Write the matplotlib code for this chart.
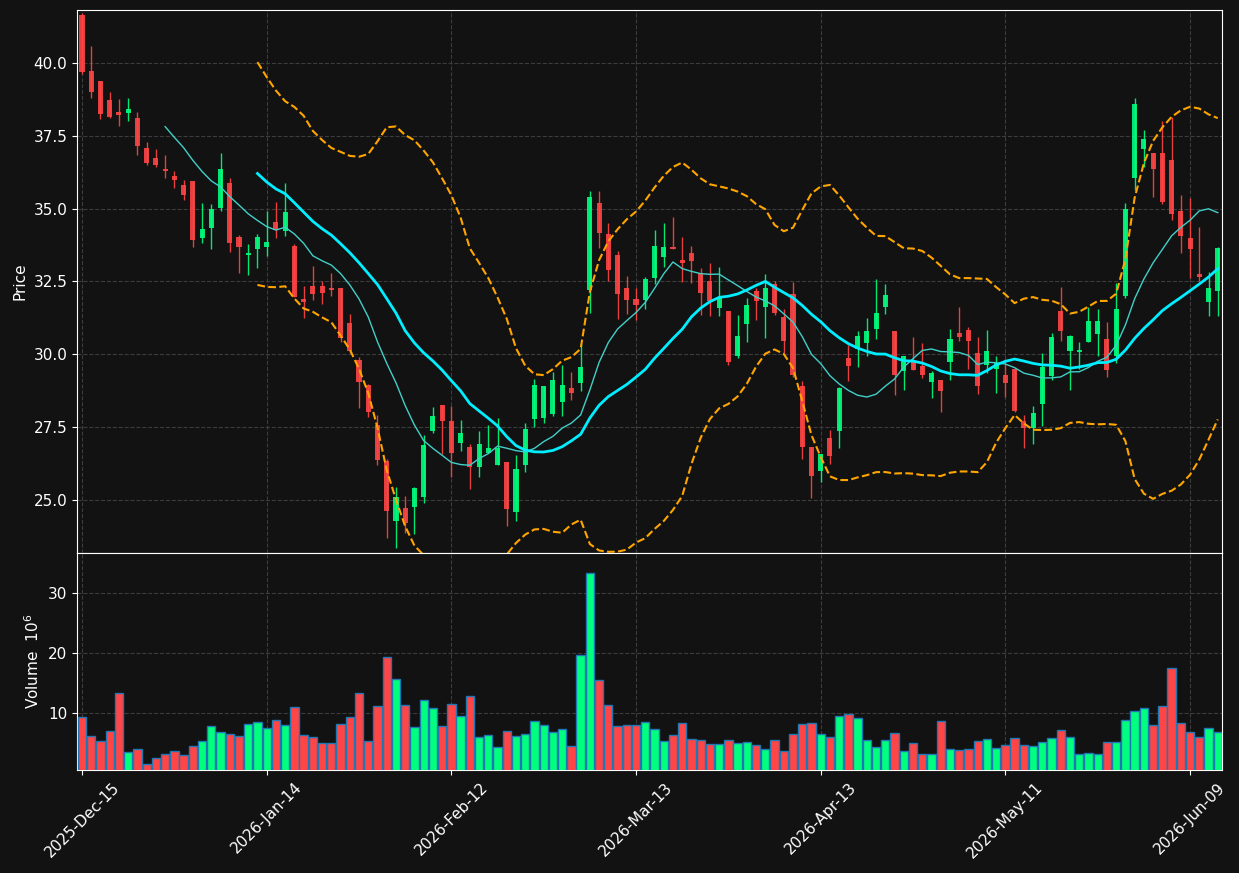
import numpy as np
import pandas as pd
import matplotlib
matplotlib.use("Agg")
import matplotlib.pyplot as plt

# daily OHLC (124 sessions, NYSE calendar)
opens = [
    41.64, 39.71, 39.36, 38.71, 38.30, 38.27, 38.09, 37.06, 36.72, 36.34,
    36.13, 35.82, 35.93, 33.98, 34.32, 35.02, 35.86, 34.01, 33.42, 33.63,
    33.69, 34.55, 34.23, 33.73, 31.90, 32.34, 32.34, 32.28, 32.28, 31.09,
    29.81, 28.95, 27.58, 26.35, 24.30, 24.73, 24.78, 25.11, 27.38, 28.27,
    27.72, 26.97, 26.82, 26.14, 26.63, 26.20, 26.31, 24.61, 26.20, 27.77,
    27.83, 27.95, 28.38, 28.85, 29.02, 32.20, 35.20, 34.13, 33.42, 32.28,
    31.90, 31.86, 32.61, 33.33, 33.68, 33.22, 33.46, 32.80, 32.52, 31.58,
    31.47, 29.95, 31.03, 32.18, 31.61, 32.40, 31.27, 32.06, 28.93, 26.84,
    25.99, 27.14, 27.38, 29.89, 30.18, 30.40, 30.88, 31.64, 30.81, 29.43,
    29.73, 29.61, 29.04, 29.13, 29.75, 30.74, 30.85, 30.06, 29.63, 29.51,
    29.30, 29.49, 27.72, 27.46, 28.31, 29.27, 31.47, 30.12, 30.07, 30.43,
    30.71, 30.53, 29.95, 32.01, 36.04, 37.05, 36.89, 36.92, 36.65, 34.93,
    33.98, 32.77, 31.80, 32.16]
highs = [
    41.70, 40.58, 39.39, 39.00, 38.76, 38.80, 38.32, 37.27, 37.05, 36.84,
    36.29, 35.99, 35.93, 35.20, 35.16, 36.91, 36.05, 34.08, 33.79, 34.13,
    34.92, 35.24, 35.89, 33.80, 32.34, 33.03, 32.50, 32.79, 32.28, 31.40,
    29.90, 29.00, 27.91, 26.40, 25.45, 25.13, 25.45, 27.24, 28.20, 28.27,
    28.23, 27.76, 26.93, 27.36, 27.57, 27.81, 26.31, 26.55, 27.66, 29.15,
    28.93, 29.39, 29.63, 29.39, 30.34, 35.59, 35.59, 34.51, 33.56, 32.68,
    32.28, 32.65, 34.26, 34.51, 34.71, 34.03, 33.70, 32.95, 33.13, 32.99,
    31.47, 31.35, 31.92, 32.26, 32.77, 32.52, 31.55, 32.49, 29.10, 26.84,
    26.59, 27.42, 28.88, 30.31, 30.81, 31.25, 32.59, 32.40, 30.81, 29.94,
    30.58, 30.40, 29.42, 29.13, 30.88, 31.64, 30.94, 30.58, 30.82, 29.94,
    29.85, 29.49, 27.91, 28.23, 30.06, 30.73, 32.31, 30.68, 30.42, 31.61,
    31.55, 31.10, 32.43, 35.20, 38.78, 37.69, 36.90, 37.99, 38.14, 35.48,
    35.36, 34.37, 32.83, 33.68]
lows = [
    39.61, 38.78, 38.08, 38.12, 37.84, 37.99, 36.82, 36.50, 36.41, 36.05,
    35.71, 35.30, 33.67, 33.81, 33.62, 34.92, 33.51, 32.78, 32.71, 32.95,
    33.37, 33.98, 34.06, 31.95, 31.24, 31.87, 31.72, 32.00, 30.42, 30.03,
    28.17, 27.84, 26.20, 23.69, 23.35, 23.89, 23.83, 24.89, 27.30, 26.57,
    25.78, 26.67, 25.38, 25.78, 26.63, 26.20, 24.10, 24.30, 25.96, 27.50,
    27.66, 27.88, 27.90, 28.42, 28.76, 31.41, 33.64, 32.51, 31.21, 31.37,
    31.19, 31.55, 32.40, 33.01, 33.62, 32.49, 32.45, 31.36, 31.31, 31.33,
    29.63, 29.88, 30.43, 31.19, 30.55, 31.35, 30.03, 29.24, 26.41, 25.09,
    25.63, 26.25, 26.79, 29.10, 29.55, 29.95, 30.52, 31.37, 28.60, 28.78,
    29.45, 29.18, 28.49, 28.03, 29.12, 30.46, 29.49, 28.63, 29.36, 28.67,
    28.54, 28.03, 26.79, 26.91, 27.54, 29.12, 30.46, 28.79, 29.49, 30.43,
    29.95, 29.24, 29.69, 31.92, 35.62, 36.41, 35.41, 35.14, 34.62, 33.47,
    32.62, 32.52, 31.31, 31.31]
closes = [
    39.67, 38.99, 38.24, 38.14, 38.20, 38.40, 37.14, 36.56, 36.48, 36.28,
    35.98, 35.45, 33.91, 34.31, 34.97, 36.34, 33.81, 33.67, 33.48, 34.01,
    33.86, 34.26, 34.89, 31.98, 31.78, 32.06, 32.10, 32.20, 30.57, 30.11,
    29.06, 28.04, 26.39, 24.62, 25.11, 24.22, 25.42, 26.90, 27.90, 27.72,
    26.63, 27.31, 26.14, 26.93, 26.79, 26.79, 24.71, 26.07, 27.45, 28.96,
    28.93, 29.12, 28.96, 28.66, 29.58, 35.38, 34.15, 32.88, 32.06, 31.86,
    31.70, 32.60, 33.73, 33.69, 33.63, 33.12, 33.19, 32.10, 31.83, 31.92,
    29.73, 30.64, 31.70, 31.82, 32.28, 31.43, 30.45, 29.28, 26.84, 25.83,
    26.57, 26.50, 28.85, 29.61, 30.63, 30.81, 31.43, 32.04, 29.28, 29.94,
    29.45, 29.30, 29.36, 28.73, 30.51, 30.58, 30.45, 28.90, 30.12, 29.71,
    29.02, 28.06, 27.48, 28.00, 29.58, 30.61, 30.79, 30.63, 30.16, 31.16,
    31.16, 29.45, 31.56, 34.99, 38.57, 37.37, 36.35, 35.22, 34.81, 34.06,
    33.62, 32.65, 32.28, 33.66]
# volume in millions
volumes = [
    9.33, 6.11, 5.33, 7.0, 13.33, 3.5, 4.0, 1.5, 2.5, 3.17,
    3.67, 3.0, 4.5, 5.33, 7.83, 6.83, 6.5, 6.17, 8.17, 8.5,
    7.5, 8.83, 8.0, 11.0, 6.33, 6.0, 5.0, 5.0, 8.17, 9.33,
    13.33, 5.33, 11.17, 19.33, 15.67, 11.33, 7.67, 12.17, 10.83, 7.83,
    11.5, 9.5, 12.83, 6.0, 6.33, 4.33, 7.0, 6.17, 6.5, 8.67,
    8.0, 6.83, 7.33, 4.5, 19.67, 33.33, 15.5, 11.33, 7.83, 8.0,
    8.0, 8.5, 7.33, 5.33, 6.33, 8.33, 5.67, 5.5, 4.83, 4.83,
    5.5, 5.0, 5.17, 4.67, 4.0, 5.5, 3.67, 6.5, 8.17, 8.33,
    6.5, 6.0, 9.5, 9.83, 9.17, 5.5, 4.33, 5.5, 6.67, 3.67,
    5.0, 3.17, 3.17, 8.67, 4.0, 3.83, 4.0, 5.33, 5.67, 4.17,
    4.67, 5.83, 4.67, 4.5, 5.17, 5.83, 7.17, 6.0, 3.17, 3.33,
    3.17, 5.17, 5.17, 8.83, 10.33, 10.83, 8.0, 11.17, 17.5, 8.33,
    6.83, 6.0, 7.5, 6.83]

holidays = ["2025-12-25", "2026-01-01", "2026-01-19", "2026-02-16",
            "2026-04-03", "2026-05-25"]
dates = pd.bdate_range("2025-12-15", periods=len(closes), freq="C",
                       holidays=holidays)

df = pd.DataFrame({"Open": opens, "High": highs, "Low": lows,
                   "Close": closes, "Volume": volumes}, index=dates)

# indicators (population std for the bands)
ma10 = df["Close"].rolling(10).mean()
ma20 = df["Close"].rolling(20).mean()
sd20 = df["Close"].rolling(20).std(ddof=0)
bb_up = ma20 + 2 * sd20
bb_lo = ma20 - 2 * sd20

bg = "#121212"
up_c = "#00ff7f"
dn_c = "#ff4545"

x = np.arange(len(df))
up = df["Close"] >= df["Open"]
cols = np.where(up, up_c, dn_c)

fig = plt.figure(figsize=(12.39, 8.73), dpi=100, facecolor=bg)
ax = fig.add_axes([0.0621, 0.3666, 0.9241, 0.622], facecolor=bg)
axv = fig.add_axes([0.0621, 0.118, 0.9241, 0.2486], facecolor=bg, sharex=ax)

# candles
ax.vlines(x, df["Low"], df["High"], colors=cols, linewidth=1, alpha=0.9, zorder=2)
ax.bar(x, (df["Close"] - df["Open"]).abs(), bottom=np.minimum(df["Open"], df["Close"]),
       width=0.55, color=cols, alpha=0.9, linewidth=0, zorder=3)

# moving averages + bollinger
ax.plot(x, ma10, color="#40d0c8", linewidth=1, zorder=4)
ax.plot(x, ma20, color="#00eeff", linewidth=2, zorder=4)
ax.plot(x, bb_up, color="orange", linestyle="--", linewidth=1.5, zorder=4)
ax.plot(x, bb_lo, color="orange", linestyle="--", linewidth=1.5, zorder=4)

ax.set_ylim(23.19, 41.81)
ax.set_yticks(np.arange(25, 41, 2.5))
ax.set_yticklabels([f"{v:.1f}" for v in np.arange(25, 41, 2.5)])
ax.set_ylabel("Price", color="white", fontsize=11)

# volume
axv.bar(x, df["Volume"], width=0.9, color=cols, edgecolor="#1f77b4", linewidth=1, zorder=3)
axv.set_ylim(0.3 * min(volumes), 1.1 * max(volumes))
axv.set_yticks([10, 20, 30])
axv.set_ylabel("Volume  $10^6$", color="white", fontsize=11)

axv.set_xlim(-0.55, len(df) - 0.55)
tick_idx = x[::20]
axv.set_xticks(tick_idx)
axv.set_xticklabels([d.strftime("%Y-%b-%d") for d in dates[tick_idx]],
                    rotation=45, ha="center", fontsize=11)
ax.tick_params(labelbottom=False, bottom=False)

for a in (ax, axv):
    a.grid(True, color="#3c3c3c", linestyle="--", linewidth=0.8, zorder=0)
    a.set_axisbelow(True)
    for s in a.spines.values():
        s.set_color("white")
    a.tick_params(colors="white", labelsize=11)

fig.savefig("out.png", dpi=100, facecolor=bg)
